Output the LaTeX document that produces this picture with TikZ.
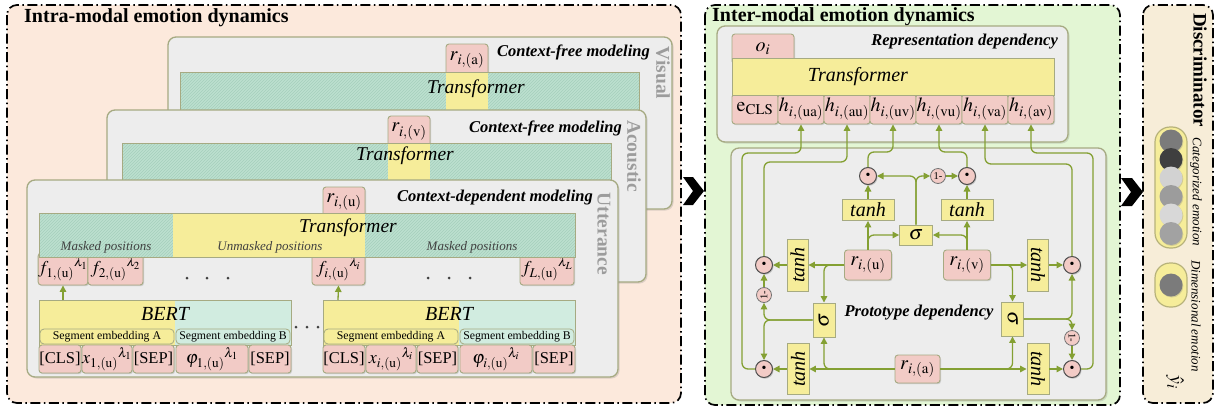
\documentclass[tikz,border=0pt]{standalone}
\usepackage{mathptmx}
\usepackage{graphicx}
\usepackage{fontspec}
\setmainfont{Liberation Serif}
\usetikzlibrary{arrows.meta,patterns,shadows}
\newcommand\fsz[1]{\fontsize{#1}{#1}\selectfont}
\definecolor{peach}{HTML}{FCE9DC}
\definecolor{mint}{HTML}{E3F6D4}
\definecolor{beige}{HTML}{F7EDD8}
\definecolor{panelgray}{HTML}{EDEDED}
\definecolor{bord}{HTML}{A6AA82}
\definecolor{teal1}{HTML}{BCE0CF}
\definecolor{teal2}{HTML}{A6D0BC}
\definecolor{tealL}{HTML}{D1ECE0}
\definecolor{yel}{HTML}{F6ED9A}
\definecolor{pinkc}{HTML}{F2CBC6}
\definecolor{wirec}{HTML}{84A033}
\definecolor{lblgray}{HTML}{9C9C9C}
\definecolor{capb}{HTML}{B7B27A}
\definecolor{ga}{HTML}{7B7B7B}
\definecolor{gb}{HTML}{3F3F3F}
\definecolor{gc}{HTML}{D2D2D2}
\definecolor{gd}{HTML}{9C9C9C}
\definecolor{ge}{HTML}{D8D8D8}
\definecolor{gf}{HTML}{A2A2A2}
\tikzset{
 panel/.style={draw=black, line width=1.7pt, dash pattern=on 10pt off 3.5pt on 1.5pt off 3.5pt, rounded corners=10pt},
 lyr/.style={draw=bord, fill=panelgray, line width=1.3pt, rounded corners=8pt, drop shadow={shadow xshift=1.5pt, shadow yshift=-1.5pt, opacity=.25}},
 hatch/.style={fill=teal1, postaction={pattern=north east lines, pattern color=teal2}},
 barline/.style={draw=bord, line width=1pt},
 pbox/.style={draw=bord, fill=pinkc, line width=.9pt, rounded corners=3pt, inner sep=0pt, font=\fsz{20}, drop shadow={shadow xshift=1pt, shadow yshift=-1.2pt, opacity=.3}},
 tf/.style={font=\fsz{19.5}\itshape, inner sep=0pt},
 mdl/.style={font=\fsz{16.5}\bfseries\itshape, inner sep=0pt},
 vlab/.style={font=\fsz{19.5}\bfseries, text=lblgray, rotate=-90, inner sep=0pt},
 ttl/.style={font=\fsz{20}\bfseries, inner sep=0pt},
 msk/.style={font=\fsz{13}\itshape, text=black!75, inner sep=0pt},
 seg/.style={draw=bord, line width=.8pt, rounded corners=4pt, inner sep=0pt, minimum height=15pt, font=\fsz{11.8}},
 tok/.style={pbox, minimum height=28pt, font=\fsz{16.5}},
 fbx/.style={pbox, minimum height=32pt, font=\fsz{18}},
 wire/.style={draw=wirec, line width=1.3pt, rounded corners=6pt},
 arr/.style={wire, -{Triangle[length=6.5pt,width=6.5pt]}},
 odot/.style={circle, draw=black!70, fill=pinkc, line width=1pt, minimum size=17pt, inner sep=0pt, font=\fsz{14}, drop shadow={shadow xshift=1pt, shadow yshift=-1.2pt, opacity=.4}},
 onem/.style={circle, draw=black!55, fill=pinkc, line width=.8pt, minimum size=15pt, inner sep=0pt, font=\fsz{10.5}},
 fn/.style={draw=bord, fill=yel, line width=.9pt, inner sep=0pt, font=\fsz{20}\itshape},
 dotn/.style={circle, fill=black!75, minimum size=3pt, inner sep=0pt},
 emo/.style={circle, minimum size=23pt, inner sep=0pt, drop shadow={shadow xshift=.8pt, shadow yshift=-1pt, opacity=.3}},
 capsl/.style={draw=capb, fill=yel, line width=1.2pt, rounded corners=15pt, minimum width=32pt, inner sep=0pt},
}
\begin{document}
\begin{tikzpicture}[x=1pt,y=-1pt]
\path[use as bounding box, fill=white] (0,0) rectangle (1217,410);

% ================= LEFT PANEL =================
\draw[panel, fill=peach] (7,5) rectangle (681,403);
\node[ttl, anchor=base west] (tIntra) at (24,22) {Intra-modal emotion dynamics};

% Visual layer
\path[lyr] (168,37) rectangle (672,209);
\node[pbox, minimum width=42pt, minimum height=32pt] (rA) at (467,60) {$r_{i,(\mathrm{a})}$};
\path[hatch] (180,72) rectangle (639,110);
\fill[yel] (446,72) rectangle (488,110);
\draw[barline] (180,72) rectangle (639,110);
\node[tf] (tfV) at (476,89) {Transformer};
\node[mdl, anchor=east] (cfV) at (650,52) {Context-free modeling};
\node[vlab] (lV) at (663,73) {Visual};

% Acoustic layer
\path[lyr] (107,110) rectangle (646,282);
\node[pbox, minimum width=42pt, minimum height=31pt] (rV) at (409,131.5) {$r_{i,(\mathrm{v})}$};
\path[hatch] (122,143) rectangle (611,180);
\fill[yel] (388,143) rectangle (430,180);
\draw[barline] (122,143) rectangle (611,180);
\node[tf] (tfA) at (405,156) {Transformer};
\node[mdl, anchor=east] (cfA) at (622,128) {Context-free modeling};
\node[vlab] (lA) at (634,156) {Acoustic};

% Utterance layer
\path[lyr] (27,180) rectangle (618,377);
\node[pbox, minimum width=42pt, minimum height=30pt] (rU) at (344,202) {$r_{i,(\mathrm{u})}$};
\node[fbx, minimum width=48pt] (f1) at (63,269) {${f_{1,(\mathrm{u})}}^{\lambda_1}$};
\node[fbx, minimum width=55pt] (f2) at (115.5,269) {${f_{2,(\mathrm{u})}}^{\lambda_2}$};
\node[fbx, minimum width=53pt] (fi) at (338.5,269) {${f_{i,(\mathrm{u})}}^{\lambda_i}$};
\node[fbx, minimum width=54pt] (fL) at (547,269) {${f_{L,(\mathrm{u})}}^{\lambda_L}$};
\path[hatch] (39,213) rectangle (173,257);
\fill[yel] (173,213) rectangle (365,257);
\path[hatch] (365,213) rectangle (575,257);
\draw[barline] (39,213) rectangle (575,257);
\node[tf] (tfU) at (348,228) {Transformer};
\node[msk] (m1) at (106,247) {Masked positions};
\node[msk] (m2) at (270,247) {Unmasked positions};
\node[msk] (m3) at (472,247) {Masked positions};
\node[mdl, anchor=east] (cdU) at (593,198) {Context-dependent modeling};
\node[vlab] (lU) at (604,234) {Utterance};
\node[dotn] (d1) at (187,278) {};
\node[dotn] (d2) at (207,278) {};
\node[dotn] (d3) at (228,278) {};
\node[dotn] (d4) at (428,278) {};
\node[dotn] (d5) at (449,278) {};
\node[dotn] (d6) at (470,278) {};

% BERT block 1
\fill[yel] (39,300) rectangle (175,345);
\fill[tealL] (175,300) rectangle (291,345);
\draw[barline] (39,300) rectangle (291,345);
\node[tf, font=\fsz{20}\itshape] (bert1) at (165,314) {BERT};
\node[seg, fill=yel, minimum width=134pt] (sA1) at (107,336.5) {Segment embedding A};
\node[seg, fill=tealL, minimum width=114pt] (sB1) at (233,336.5) {Segment embedding B};
\node[tok, minimum width=42pt] (cls1) at (60,359) {[CLS]};
\node[tok, minimum width=50pt, font=\fsz{18}] (x1) at (107,359) {${x_{1,(\mathrm{u})}}^{\lambda_1}$};
\node[tok, minimum width=41pt] (sep1) at (153.5,359) {[SEP]};
\node[tok, minimum width=72pt, font=\fsz{18}] (ph1) at (212,359) {${\varphi_{1,(\mathrm{u})}}^{\lambda_1}$};
\node[tok, minimum width=42pt] (sep1b) at (270,359) {[SEP]};
\coordinate (a1) at (63,300);
\draw[arr] (a1) -- (f1.south);

\node[dotn] (d7) at (296,327) {};
\node[dotn] (d8) at (307,327) {};
\node[dotn] (d9) at (318,327) {};

% BERT block 2
\fill[yel] (323,300) rectangle (459,345);
\fill[tealL] (459,300) rectangle (575,345);
\draw[barline] (323,300) rectangle (575,345);
\node[tf, font=\fsz{20}\itshape] (bert2) at (449,314) {BERT};
\node[seg, fill=yel, minimum width=134pt] (sA2) at (391,336.5) {Segment embedding A};
\node[seg, fill=tealL, minimum width=114pt] (sB2) at (517,336.5) {Segment embedding B};
\node[tok, minimum width=42pt] (cls2) at (344,359) {[CLS]};
\node[tok, minimum width=50pt, font=\fsz{18}] (x2) at (391,359) {${x_{i,(\mathrm{u})}}^{\lambda_i}$};
\node[tok, minimum width=41pt] (sep2) at (437.5,359) {[SEP]};
\node[tok, minimum width=72pt, font=\fsz{18}] (ph2) at (496,359) {${\varphi_{i,(\mathrm{u})}}^{\lambda_i}$};
\node[tok, minimum width=42pt] (sep2b) at (554,359) {[SEP]};
\coordinate (a2) at (338,300);
\draw[arr] (a2) -- (fi.south);

% chevrons
\fill[black] (683,177) -- (693,177) -- (704,191) -- (693,205) -- (683,205) -- (693,191) -- cycle;
\fill[black] (1121,178) -- (1132,178) -- (1143,192) -- (1132,206) -- (1121,206) -- (1131,192) -- cycle;

% ================= MIDDLE PANEL =================
\draw[panel, fill=mint] (705,5) rectangle (1120,405);
\node[ttl, anchor=base west] (tInter) at (712,21) {Inter-modal emotion dynamics};
\path[lyr] (717,26) rectangle (1068,142);
\node[mdl, anchor=east] (rdep) at (1058,42) {Representation dependency};
\node[pbox, minimum width=62pt, minimum height=30pt] (oi) at (763,49) {$o_i$};
\node[pbox, minimum width=46pt, minimum height=30pt] (ecls) at (755,109) {$\mathrm{e}_{\mathrm{CLS}}$};
\node[pbox, minimum width=46pt, minimum height=30pt] (hua) at (801,109) {$h_{i,(\mathrm{ua})}$};
\node[pbox, minimum width=46pt, minimum height=30pt] (hau) at (847,109) {$h_{i,(\mathrm{au})}$};
\node[pbox, minimum width=46pt, minimum height=30pt] (huv) at (893,109) {$h_{i,(\mathrm{uv})}$};
\node[pbox, minimum width=46pt, minimum height=30pt] (hvu) at (939,109) {$h_{i,(\mathrm{vu})}$};
\node[pbox, minimum width=46pt, minimum height=30pt] (hva) at (985,109) {$h_{i,(\mathrm{va})}$};
\node[pbox, minimum width=46pt, minimum height=30pt] (hav) at (1031,109) {$h_{i,(\mathrm{av})}$};
\path[draw=bord, fill=yel, line width=.9pt] (732,58) rectangle (1054,95);
\node[tf, font=\fsz{20}\itshape] (tfM) at (858,77) {Transformer};

\path[lyr] (731,148) rectangle (1106,400);
\node[mdl] (pdep) at (919,313) {Prototype dependency};

\node[odot] (otl) at (868,176) {\textbullet};
\node[onem] (omT) at (938,176) {1-};
\node[odot] (otr) at (967,176) {\textbullet};
\node[fn, minimum width=52pt, minimum height=21pt] (thTL) at (868,210) {tanh};
\node[fn, minimum width=52pt, minimum height=21pt] (thTR) at (967,210) {tanh};
\node[fn, minimum width=33pt, minimum height=20pt] (sgT) at (916,235) {$\sigma$};
\node[pbox, minimum width=47pt, minimum height=30pt] (ru) at (868,265) {$r_{i,(\mathrm{u})}$};
\node[pbox, minimum width=47pt, minimum height=30pt] (rv) at (967,265) {$r_{i,(\mathrm{v})}$};
\node[odot] (oL1) at (764,265) {\textbullet};
\node[fn, minimum width=21pt, minimum height=52pt] (thL1) at (797.5,265) {\rotatebox{90}{tanh}};
\node[fn, minimum width=22pt, minimum height=34pt] (sgL) at (824,320) {\rotatebox{90}{$\sigma$}};
\node[onem] (omL) at (764,295) {\rotatebox{90}{1-}};
\node[odot] (oL2) at (764,369) {\textbullet};
\node[fn, minimum width=22pt, minimum height=51pt] (thL2) at (798,369) {\rotatebox{90}{tanh}};
\node[pbox, minimum width=45pt, minimum height=28pt] (ra) at (917.5,369) {$r_{i,(\mathrm{a})}$};
\node[fn, minimum width=21pt, minimum height=52pt] (thR1) at (1038,265) {\rotatebox{-90}{tanh}};
\node[odot] (oR1) at (1072,265) {\textbullet};
\node[fn, minimum width=22pt, minimum height=34pt] (sgR) at (1012.5,319) {\rotatebox{-90}{$\sigma$}};
\node[onem] (omR) at (1072,338) {\rotatebox{-90}{1-}};
\node[odot] (oR2) at (1072,369) {\textbullet};
\node[fn, minimum width=22pt, minimum height=51pt] (thR2) at (1038,369) {\rotatebox{-90}{tanh}};

\coordinate (cL1) at (742,153);
\coordinate (cL2) at (764,162);
\coordinate (cT1) at (868,152);
\coordinate (cT2) at (967,152);
\coordinate (cR2) at (1072,164);
\coordinate (cR1) at (1093,153);
\draw[arr] (oL2.west) -| (cL1) -| (hua.south);
\draw[arr] (oL1.north) -- (cL2) -| (hau.south);
\draw[arr] (otl.north) -- (cT1) -| (huv.south);
\draw[arr] (otr.north) -- (cT2) -| (hvu.south);
\draw[arr] (oR1.north) -- (cR2) -| (hva.south);
\draw[arr] (oR2.east) -| (cR1) -| (hav.south);

\draw[arr] (sgT.north) |- (otl.east);
\draw[arr] (sgT.north) |- (omT.west);
\draw[arr] (omT.east) -- (otr.west);
\draw[arr] (thTL.north) -- (otl.south);
\draw[arr] (thTR.north) -- (otr.south);
\draw[arr] (ru.north) -- (thTL.south);
\draw[arr] (ru.north) |- (sgT.west);
\draw[arr] (rv.north) -- (thTR.south);
\draw[arr] (rv.north) |- (sgT.east);
\draw[arr] (ru.west) -- (thL1.east);
\draw[arr] (ru.west) -| (sgL.north);
\draw[arr] (thL1.west) -- (oL1.east);
\draw[arr] (sgL.west) -| (omL.south);
\draw[arr] (sgL.west) -| (oL2.north);
\draw[arr] (omL.north) -- (oL1.south);
\draw[arr] (ra.west) -- (thL2.east);
\draw[arr] (ra.west) -| (sgL.south);
\draw[arr] (thL2.west) -- (oL2.east);
\draw[arr] (rv.east) -- (thR1.west);
\draw[arr] (rv.east) -| (sgR.north);
\draw[arr] (thR1.east) -- (oR1.west);
\draw[arr] (sgR.east) -| (oR1.south);
\draw[arr] (sgR.east) -| (omR.north);
\draw[arr] (omR.south) -- (oR2.north);
\draw[arr] (ra.east) -- (thR2.west);
\draw[arr] (ra.east) -| (sgR.south);
\draw[arr] (thR2.east) -- (oR2.west);

% ================= DISCRIMINATOR =================
\draw[panel, fill=beige] (1143,5) rectangle (1213,403);
\node[ttl, rotate=-90, font=\fsz{19}\bfseries] (tDisc) at (1200,70) {Discriminator};
\node[capsl, minimum height=121pt] (capC) at (1171,187.5) {};
\node[emo, fill=ga] (e1) at (1171,141) {};
\node[emo, fill=gb] (e2) at (1171,159.5) {};
\node[emo, fill=gc] (e3) at (1171,178) {};
\node[emo, fill=gd] (e4) at (1171,196.5) {};
\node[emo, fill=ge] (e5) at (1171,215) {};
\node[emo, fill=gf] (e6) at (1171,233.5) {};
\node[font=\fsz{13}\itshape, rotate=-90, inner sep=0pt] (lC) at (1196,192) {Categorized emotion};
\node[capsl, minimum height=44pt] (capD) at (1171,285) {};
\node[emo, fill=ga] (e7) at (1171,285) {};
\node[font=\fsz{13}\itshape, rotate=-90, inner sep=0pt] (lD) at (1196,316) {Dimensional emotion};
\node[rotate=-90, font=\fsz{20}, inner sep=0pt] (yhat) at (1175,382) {$\hat{y}_i$};
\end{tikzpicture}
\end{document}
